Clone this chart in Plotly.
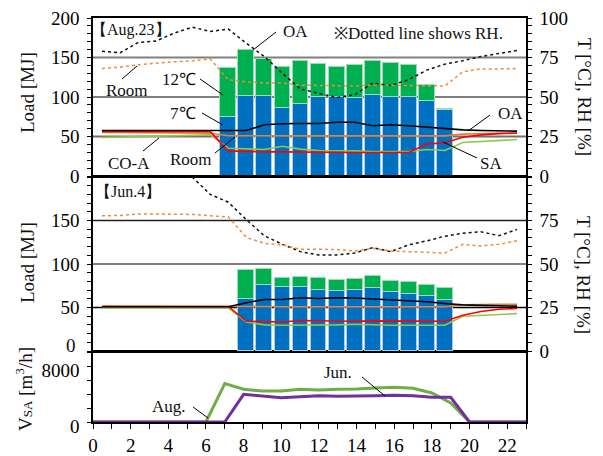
import plotly.graph_objects as go

# ---------------- data ----------------
hours = list(range(24))

aug_bar_hours = list(range(7, 20))
aug_7c = [74.5, 101, 101, 86, 91, 100.5, 99.5, 98.5, 102, 100.5, 99.5, 94.5, 83.5]
aug_12c = [62, 59, 47, 52, 55, 41.5, 39, 41.5, 44, 42.5, 41, 21, 1]

jun_bar_hours = list(range(8, 20))
jun_7c = [60, 75.4, 73.5, 73.5, 70.4, 68.8, 70.4, 72.7, 68.1, 65.8, 63.1, 58.8]
jun_12c = [32.7, 19.2, 10.7, 11.9, 13.8, 13.1, 12.7, 13.8, 12.7, 13.8, 12.7, 13.9]

aug_oa_t = [28.8, 28.8, 28.8, 28.8, 28.8, 28.8, 28.8, 28.8, 28.8, 32.4, 33.1, 33.2,
            33.2, 34.0, 34.0, 31.8, 32.4, 31.8, 30.9, 30.0, 29.2, 28.8, 28.6, 28.4]
aug_room_t = [27.5, 27.5, 27.4, 27.4, 27.3, 27.2, 27.1, 25.5, 25.4, 25.4, 25.4, 25.4,
              25.4, 25.4, 25.4, 25.4, 25.4, 25.4, 25.4, 25.4, 26.5, 27.0, 27.1, 27.1]
aug_sa_t = [28.2, 28.2, 28.2, 28.1, 28.1, 28.1, 28.1, 15.9, 15.5, 15.3, 15.3, 15.1,
            14.9, 14.9, 14.9, 14.9, 14.9, 14.9, 20.2, 21.0, 24.5, 26.0, 26.8, 27.2]
aug_coa_t = [24.4, 24.6, 24.9, 25.1, 25.4, 25.7, 26.0, 17.6, 17.2, 16.8, 18.8, 17.0,
             16.1, 16.1, 15.9, 15.5, 15.5, 15.5, 16.8, 16.1, 21.2, 21.8, 22.5, 23.1]
aug_oa_rh = [79.0, 78.0, 84.5, 85.5, 90.4, 94.2, 91.5, 93.0, 84.0, 75.6, 65.0, 55.0,
             52.4, 49.7, 51.4, 58.8, 57.3, 61.0, 67.0, 70.8, 73.0, 75.6, 77.6, 79.4]
aug_room_rh = [68.0, 68.9, 70.4, 71.4, 72.3, 72.9, 74.0, 60.9, 59.6, 58.8, 58.8, 57.5,
               57.3, 57.3, 57.0, 57.5, 57.3, 57.3, 57.0, 57.0, 66.0, 67.8, 67.8, 68.0]

jun_oa_t = [25.4, 25.4, 25.4, 25.4, 25.4, 25.4, 25.4, 25.4, 27.7, 29.6, 29.6, 30.6,
            30.2, 30.6, 30.5, 30.0, 29.6, 29.0, 28.3, 27.3, 26.5, 26.2, 25.8, 25.8]
jun_room_t = [25.9, 25.9, 25.9, 25.9, 25.9, 25.9, 25.9, 25.9, 25.8, 25.6, 25.4, 25.4,
              25.6, 25.6, 25.6, 25.6, 25.6, 25.5, 25.5, 25.4, 26.6, 26.9, 26.9, 26.9]
jun_sa_t = [25.6, 25.6, 25.6, 25.6, 25.6, 25.6, 25.6, 25.6, 17.1, 16.7, 16.7, 17.5,
            17.3, 16.9, 17.1, 17.3, 17.3, 17.3, 17.1, 17.1, 20.6, 22.7, 24.0, 24.4]
jun_coa_t = [24.8, 24.8, 24.8, 24.8, 24.8, 24.8, 24.8, 24.8, 16.7, 15.0, 14.8, 14.8,
             14.8, 15.0, 15.4, 15.0, 14.8, 14.8, 14.8, 14.8, 20.0, 20.4, 21.0, 21.5]
jun_oa_rh = [100, 100, 100, 100, 100, 100, 90.0, 85.5, 75.5, 66.2, 61.3, 57.1,
             55.2, 55.2, 56.3, 59.4, 57.1, 61.0, 63.3, 66.0, 67.7, 68.5, 66.3, 69.8]
jun_room_rh = [77.7, 77.9, 78.8, 78.8, 78.8, 78.5, 77.7, 77.1, 65.2, 61.9, 61.0, 58.5,
               58.5, 58.3, 57.5, 59.0, 57.5, 57.1, 56.3, 56.3, 61.3, 60.4, 61.3, 63.3]

aug_flow = [0, 0, 0, 0, 0, 0, 0, 5480, 4670, 4430, 4430, 4670, 4570, 4670, 4710, 4860,
            4950, 4810, 4140, 2710, 0, 0, 0, 0]
jun_flow = [0, 0, 0, 0, 0, 0, 0, 0, 3950, 3670, 3480, 3620, 3760, 3670, 3760, 3760,
            3810, 3760, 3520, 3520, 0, 0, 0, 0]

x_ticks = list(range(0, 23, 2))
aug_load_ticks = [0, 50, 100, 150, 200]
jun_load_ticks = [50, 100, 150]
aug_t_ticks = [0, 25, 50, 75, 100]
jun_t_ticks = [0, 25, 50, 75]
flow_ticks = [0, 8000]

# ---------------- layout helpers ----------------
W, H = 603, 456
L, R, T, B = 93, 77, 18, 34
PW = W - L - R
PH = H - T - B
FONT = "Liberation Serif"


def px(x):
    return (x - L) / PW


def py(y):
    return (H - B - y) / PH


fig = go.Figure()

BLUE, GREEN = "#0070c0", "#00b050"
EDGE = "#a9cbe8"

# Bars
fig.add_bar(x=aug_bar_hours, y=aug_7c, xaxis="x2", yaxis="y", width=0.88,
            marker=dict(color=BLUE, line=dict(color=EDGE, width=1)))
fig.add_bar(x=aug_bar_hours, y=aug_12c, xaxis="x2", yaxis="y", width=0.88,
            marker=dict(color=GREEN, line=dict(color="#9fdcb4", width=1)))
fig.add_bar(x=jun_bar_hours, y=jun_7c, xaxis="x3", yaxis="y3", width=0.88,
            marker=dict(color=BLUE, line=dict(color=EDGE, width=1)))
fig.add_bar(x=jun_bar_hours, y=jun_12c, xaxis="x3", yaxis="y3", width=0.88,
            marker=dict(color=GREEN, line=dict(color="#9fdcb4", width=1)))


def add_line(y, xa, ya, color, width=1.6, dash="solid"):
    fig.add_scatter(x=hours, y=y, xaxis=xa, yaxis=ya, mode="lines",
                    line=dict(color=color, width=width, dash=dash))


for (oa, room, sa, coa, oarh, roomrh, xa, ya) in [
    (aug_oa_t, aug_room_t, aug_sa_t, aug_coa_t, aug_oa_rh, aug_room_rh, "x2", "y2"),
    (jun_oa_t, jun_room_t, jun_sa_t, jun_coa_t, jun_oa_rh, jun_room_rh, "x3", "y4"),
]:
    add_line(oarh, xa, ya, "#111111", 1.5, "dot")
    add_line(roomrh, xa, ya, "#f08a3c", 1.5, "dot")
    add_line(coa, xa, ya, "#92c84a", 1.6)
    add_line(room, xa, ya, "#ed7d31", 1.6)
    add_line(sa, xa, ya, "#ff0000", 1.6)
    add_line(oa, xa, ya, "#000000", 1.6)

# Bottom panel
fig.add_scatter(x=hours, y=aug_flow, xaxis="x", yaxis="y5", mode="lines",
                line=dict(color="#70ad47", width=3))
fig.add_scatter(x=hours, y=jun_flow, xaxis="x", yaxis="y5", mode="lines",
                line=dict(color="#7030a0", width=3))

tickfont = dict(family=FONT, size=19, color="black")
axline = dict(showline=True, linecolor="black", linewidth=1.5, mirror=True,
              zeroline=False, showgrid=False, automargin=False)


def minor(d):
    return dict(ticks="outside", tickmode="linear", tick0=0, dtick=d,
                ticklen=4, tickcolor="black")


fig.update_layout(
    width=W, height=H, margin=dict(l=L, r=R, t=T, b=B, autoexpand=False),
    paper_bgcolor="white", plot_bgcolor="white",
    showlegend=False, barmode="stack", bargap=0,
    font=dict(family=FONT, size=17, color="black"),
    xaxis=dict(domain=[0, 1], range=[0, 23], anchor="y5", tickvals=x_ticks,
               ticks="outside", ticklen=5, tickcolor="black", tickfont=tickfont,
               minor=dict(ticks="outside", tickmode="linear", tick0=0, dtick=1,
                          ticklen=5, tickcolor="black"), **axline),
    xaxis2=dict(domain=[0, 1], range=[-0.5, 23.5], anchor="y",
                showticklabels=False, ticks="", **axline),
    xaxis3=dict(domain=[0, 1], range=[-0.5, 23.5], anchor="y3",
                showticklabels=False, ticks="", **axline),
    yaxis=dict(domain=[py(176), 1], range=[0, 200], anchor="x2",
               tickvals=aug_load_ticks, ticks="outside", ticklen=4,
               tickcolor="black", tickfont=tickfont, ticklabelstandoff=4,
               minor=minor(10), **axline),
    yaxis2=dict(overlaying="y", side="right", range=[0, 100], anchor="x2",
                tickvals=aug_t_ticks, ticks="outside", ticklen=4,
                tickcolor="black", tickfont=tickfont, ticklabelstandoff=4,
                minor=minor(5),
                showline=True, linecolor="black", linewidth=1.5, automargin=False,
                zeroline=False, showgrid=False),
    yaxis3=dict(domain=[py(351), py(177)], range=[0, 200], anchor="x3",
                tickvals=jun_load_ticks, ticks="outside", ticklen=4,
                tickcolor="black", tickfont=tickfont, ticklabelstandoff=4,
                minor=minor(10), **axline),
    yaxis4=dict(overlaying="y3", side="right", range=[0, 100], anchor="x3",
                tickvals=jun_t_ticks, ticks="outside", ticklen=4,
                tickcolor="black", tickfont=tickfont, ticklabelstandoff=4,
                minor=minor(5),
                showline=True, linecolor="black", linewidth=1.5, automargin=False,
                zeroline=False, showgrid=False),
    yaxis5=dict(domain=[0, py(352)], range=[0, 10000], anchor="x",
                tickvals=flow_ticks, ticks="outside", ticklen=4, tickcolor="black",
                tickfont=tickfont, ticklabelstandoff=4, ticklabelshift=4,
                minor=minor(2000), **axline),
)

# horizontal reference lines
shapes = []
for yref, xref, levels in [
    ("y", "x2 domain", [(150, "#808080", 2.2), (100, "#000000", 1.2), (50, "#707070", 1.8)]),
    ("y3", "x3 domain", [(150, "#202020", 1.4), (100, "#808080", 2.2), (50, "#000000", 1.5)]),
]:
    for lv, col, w in levels:
        shapes.append(dict(type="line", xref=xref, x0=0, x1=1, yref=yref, y0=lv, y1=lv,
                           line=dict(color=col, width=w), layer="below"))


def leader(x0, y0, x1, y1):
    shapes.append(dict(type="line", xref="paper", yref="paper",
                       x0=px(x0), y0=py(y0), x1=px(x1), y1=py(y1),
                       line=dict(color="black", width=1)))


leader(276, 32, 253, 50)      # OA (top)
leader(122, 79, 137, 66)      # Room RH
leader(200, 79, 223, 95)      # 12C
leader(202, 113, 223, 125)    # 7C
leader(143, 151, 159, 138)    # CO-A
leader(215, 153, 235, 137)    # Room
leader(490, 115, 468, 131)    # OA right
leader(477, 158, 443, 142)    # SA
leader(193, 407, 208, 418)    # Aug.
leader(362, 377, 385, 396)    # Jun.
fig.update_layout(shapes=shapes)

annots = []


def note(text, x, y, size=17, angle=0, xanchor="center"):
    annots.append(dict(text=text, x=px(x), y=py(y), xref="paper", yref="paper",
                       xanchor=xanchor, yanchor="middle", showarrow=False,
                       textangle=angle, font=dict(family=FONT, size=size, color="#111111")))


note("【Aug.23】", 131, 30, 16)
note("【Jun.4】", 128, 191, 16)
note("※Dotted line shows RH.", 418, 33, 17)
note("OA", 295, 31)
note("Room", 127, 90)
note("12℃", 179, 79)
note("7℃", 183, 113)
note("CO-A", 129, 163)
note("Room", 191, 159)
note("OA", 510, 113)
note("SA", 491, 163)
note("Aug.", 169, 406)
note("Jun.", 338, 372)
note("0", 78, 345, 19, 0, "right")   # Jun. load axis zero label (raised as in source)
note("Load [MJ]", 27, 93, 19, -90)
note("Load [MJ]", 27, 263, 19, -90)
note("T [°C], RH [%]", 584, 97, 19, 90)
note("T [°C], RH [%]", 584, 275, 19, 90)
note("V<span style='font-size:13px'>SA</span> [m<sup>3</sup>/h]", 24, 389, 19, -90)
fig.update_layout(annotations=annots)

fig.write_html("out.html")
